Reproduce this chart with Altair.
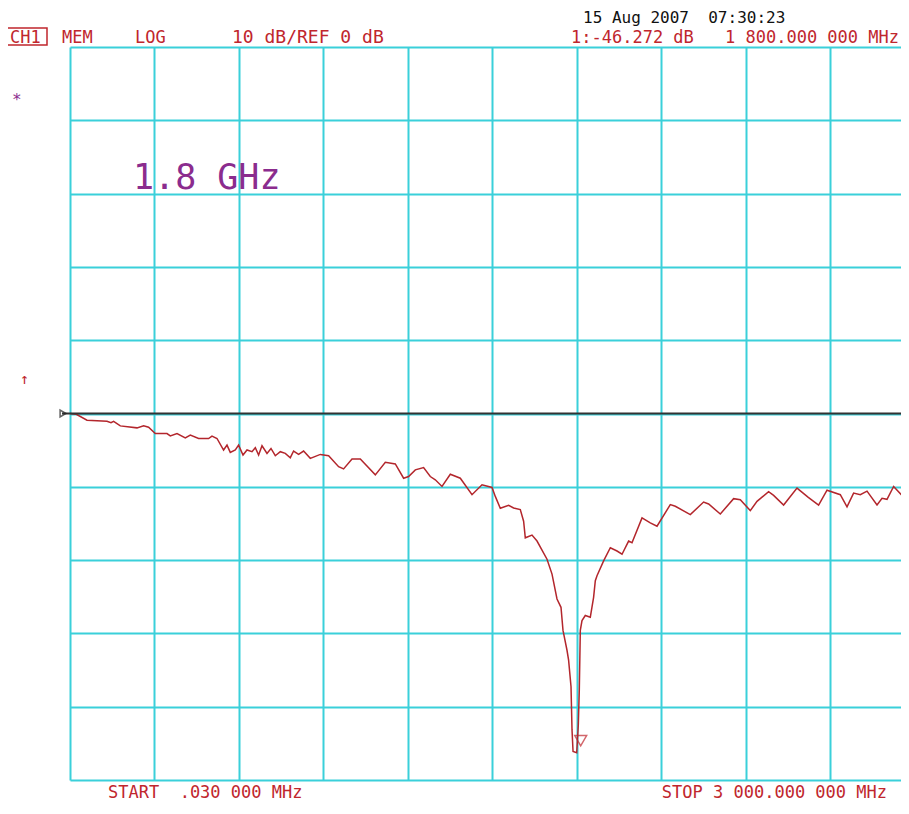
import altair as alt
import pandas as pd

# Trace (frequency in MHz, level in dB)
freq_mhz = [0.03, 22.4, 60.4, 131.4, 145.6, 154.9, 178.7, 238.0, 261.5, 279.2,
            303.0, 344.6, 356.3, 380.1, 409.6, 427.4, 456.8, 492.4, 504.4, 522.2,
            545.6, 557.7, 569.4, 587.2, 598.9, 614.6, 628.8, 646.5, 658.3, 670.0,
            682.1, 699.8, 714.0, 729.3, 747.1, 764.8, 782.6, 794.3, 812.1, 829.8,
            853.6, 889.2, 918.7, 954.2, 971.9, 1001.8, 1031.3, 1084.6, 1120.1, 1155.6,
            1185.1, 1202.8, 1226.7, 1256.1, 1279.9, 1297.7, 1321.5, 1351.0, 1386.5, 1428.1,
            1463.6, 1499.1, 1510.8, 1528.6, 1558.1, 1575.9, 1599.6, 1611.4, 1617.4, 1641.2,
            1659.0, 1694.5, 1712.3, 1730.0, 1744.2, 1751.3, 1765.5, 1771.2, 1779.8, 1783.3,
            1787.0, 1800.0, 1805.7, 1809.2, 1812.8, 1818.8, 1830.5, 1848.3, 1860.0, 1866.1,
            1872.1, 1895.6, 1919.4, 1943.2, 1961.0, 1984.4, 1996.4, 2032.0, 2061.4, 2085.3,
            2132.5, 2150.3, 2203.6, 2250.8, 2268.6, 2310.1, 2357.4, 2381.2, 2416.7, 2440.5,
            2481.7, 2499.5, 2535.0, 2582.6, 2622.7, 2659.3, 2689.2, 2736.4, 2760.2, 2783.6,
            2807.5, 2831.3, 2866.8, 2884.6, 2902.3, 2925.8, 2973.4, 2980.0]
level_db = [0.0, -0.1, -0.92, -1.06, -1.25, -1.06, -1.69, -1.96, -1.69, -1.87,
            -2.74, -2.74, -3.05, -2.74, -3.32, -2.95, -3.41, -3.41, -3.09, -3.41,
            -4.98, -4.31, -5.31, -4.98, -4.31, -5.66, -4.98, -5.21, -4.67, -5.66,
            -4.40, -5.44, -4.77, -5.76, -5.21, -5.44, -6.03, -5.12, -5.58, -5.12,
            -6.12, -5.58, -5.76, -7.25, -7.56, -6.20, -6.20, -8.37, -6.66, -6.88,
            -8.83, -8.60, -7.69, -7.38, -8.60, -9.05, -9.95, -8.29, -8.83, -11.08,
            -9.72, -10.09, -11.31, -12.93, -12.53, -12.89, -13.11, -14.69, -16.96, -16.59,
            -17.40, -19.88, -21.91, -25.30, -26.44, -29.59, -32.30, -33.65, -37.27, -43.13,
            -46.10, -46.272, -42.46, -37.72, -29.59, -28.24, -27.56, -27.79, -25.08, -22.82,
            -22.14, -20.11, -18.31, -18.76, -19.20, -17.40, -17.63, -14.25, -14.92, -15.37,
            -12.43, -12.66, -13.79, -12.08, -12.35, -13.71, -11.62, -11.76, -13.25, -11.99,
            -10.67, -11.17, -12.49, -10.18, -11.44, -12.49, -10.46, -11.08, -12.73, -10.86,
            -11.08, -10.59, -12.49, -11.58, -11.71, -9.95, -11.94, -11.58]

marker_freq = [1800.0]
marker_db = [-46.272]

x_grid = [0, 300, 600, 900, 1200, 1500, 1800, 2100, 2400, 2700]
y_grid = [-50, -40, -30, -20, -10, 0, 10, 20, 30, 40, 50]

NB = "\u00a0"
RED = "#c0262d"
TRACE = "#b3262c"
PURPLE = "#8b2c8e"
CYAN = "#3ad0da"
FONT = "DejaVu Sans Mono"

PLOT_W = 831
PLOT_H = 733

trace_df = pd.DataFrame({"f": freq_mhz, "db": level_db})
marker_df = pd.DataFrame({"f": marker_freq, "db": marker_db})
dummy = pd.DataFrame({"a": [0]})

xs = alt.Scale(domain=[0, 2952], nice=False, zero=False)
ys = alt.Scale(domain=[-50, 50], nice=False, zero=False)

x_axis = alt.Axis(values=x_grid, grid=True, gridColor=CYAN, gridWidth=2, gridOpacity=1,
                  domain=False, ticks=False, labels=False, title=None)
y_axis = alt.Axis(values=y_grid, grid=True, gridColor=CYAN, gridWidth=2, gridOpacity=1,
                  domain=False, ticks=False, labels=False, title=None)

trace = alt.Chart(trace_df).mark_line(color=TRACE, strokeWidth=1.5, interpolate="linear",
                                      clip=True).encode(
    x=alt.X("f:Q", scale=xs, axis=x_axis),
    y=alt.Y("db:Q", scale=ys, axis=y_axis),
    order=alt.Order("f:Q"),
)

ref_line = alt.Chart(dummy).mark_rule(color="#333333", strokeWidth=2).encode(
    y=alt.datum(0), x=alt.value(-8), x2=alt.value(PLOT_W)
)
ref_mark = alt.Chart(dummy).mark_point(shape="triangle-right", filled=False, size=45,
                                       color="#222222", strokeWidth=1.5).encode(
    y=alt.datum(0), x=alt.value(-7)
)

marker = alt.Chart(marker_df).mark_point(shape="triangle-down", filled=False, size=140,
                                         color=RED, strokeWidth=1.5, yOffset=-12, xOffset=4).encode(
    x=alt.X("f:Q", scale=xs), y=alt.Y("db:Q", scale=ys)
)


def label(text, px, py, color=RED, size=17, align="left", baseline="alphabetic"):
    return alt.Chart(dummy).mark_text(text=text, font=FONT, fontSize=size, color=color,
                                      align=align, baseline=baseline).encode(
        x=alt.value(px), y=alt.value(py)
    )


ch1_box = alt.Chart(dummy).mark_rect(fill=None, stroke=RED, strokeWidth=1.5).encode(
    x=alt.value(-63), x2=alt.value(-23), y=alt.value(-19), y2=alt.value(-2)
)

labels = [
    label("CH1", -60, -4),
    label("MEM", -8, -4),
    label("LOG", 65, -4),
    label("10 dB/REF 0 dB", 162, -4, size=18),
    label("15 Aug 2007" + NB + NB + "07:30:23", 513, -24, color="#111111", size=16),
    label("1:-46.272 dB", 501, -4),
    label("1" + NB + "800.000" + NB + "000 MHz", 829, -4, align="right"),
    label("START" + NB + NB + ".030 000 MHz", 38, 751),
    label("STOP 3" + NB + "000.000" + NB + "000 MHz", 817, 751, align="right"),
    label("1.8 GHz", 63, 142, color=PURPLE, size=35),
    label("*", -58, 53, color=PURPLE, size=16, baseline="middle"),
    label("\u2191", -50, 332, color=RED, size=15, baseline="middle"),
]

chart = alt.layer(trace, ref_line, ref_mark, marker, ch1_box, *labels).properties(
    width=PLOT_W, height=PLOT_H, autosize="none",
    padding={"left": 62, "top": 39, "right": 0, "bottom": 21},
    background="white",
).configure_view(stroke=None)

chart.save("out.html", embed_options={"renderer": "svg", "actions": False})
